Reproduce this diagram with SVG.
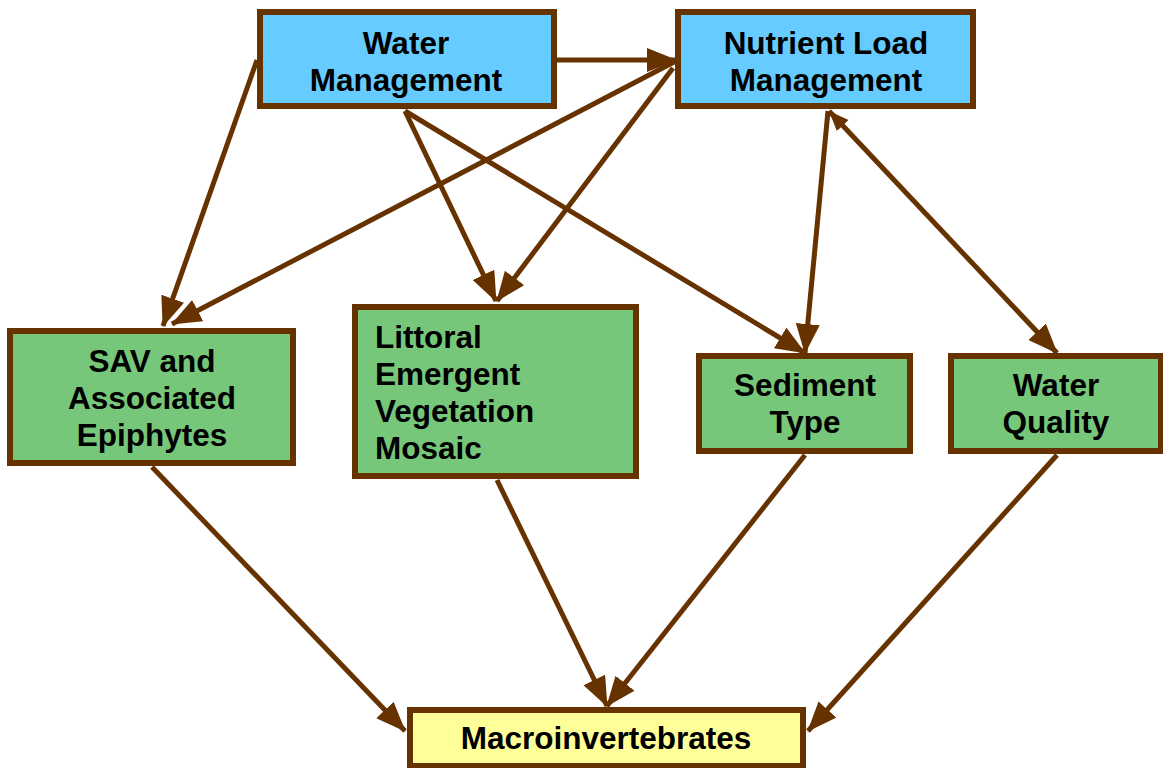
<svg xmlns="http://www.w3.org/2000/svg" width="1163" height="768" viewBox="0 0 1163 768">
<style>
.box{stroke:#663300;stroke-width:6}
.blue{fill:#66CCFF}
.green{fill:#77C77A}
.yellow{fill:#FFFF99}
text{font-family:"Liberation Sans",Arial,sans-serif;font-weight:bold;font-size:31.5px;fill:#000}
.c{text-anchor:middle}
.conn line{stroke:#663300;stroke-width:5;fill:none;marker-end:url(#ah)}
</style>
<defs>
<marker id="ah" markerUnits="userSpaceOnUse" markerWidth="32" markerHeight="26" refX="29" refY="12" orient="auto">
<path d="M0,0 L30,12 L0,24 z" fill="#663300"/>
</marker>
<marker id="ahs" markerUnits="userSpaceOnUse" markerWidth="22" markerHeight="18" refX="20" refY="8" orient="auto-start-reverse">
<path d="M0,0 L20,8 L0,16 z" fill="#663300"/>
</marker>
</defs>
<rect width="1163" height="768" fill="#fff"/>
<g class="conn" id="connectors">
<line x1="557" y1="60" x2="676" y2="60"/>
<line x1="257" y1="60" x2="163" y2="326"/>
<line x1="676" y1="61" x2="172" y2="324"/>
<line x1="673" y1="68" x2="497" y2="301"/>
<line x1="405" y1="111" x2="496" y2="301"/>
<line x1="405" y1="111" x2="805" y2="353"/>
<line x1="828" y1="111" x2="805" y2="353"/>
<line x1="829" y1="111" x2="1057" y2="353" marker-start="url(#ahs)"/>
<line x1="152" y1="467" x2="405" y2="731"/>
<line x1="497" y1="480" x2="607" y2="706"/>
<line x1="805" y1="455" x2="607" y2="706"/>
<line x1="1057" y1="455" x2="808" y2="731"/>
</g>
<g id="water-management">
<rect class="box blue" x="260" y="12" width="294" height="94"/>
<text class="c" x="406" y="54">Water</text>
<text class="c" x="406" y="91">Management</text>
</g>
<g id="nutrient-load-management">
<rect class="box blue" x="678" y="12" width="295" height="94"/>
<text class="c" x="826" y="54">Nutrient Load</text>
<text class="c" x="826" y="91">Management</text>
</g>
<g id="sav">
<rect class="box green" x="10" y="331" width="283" height="132"/>
<text class="c" x="152" y="372">SAV and</text>
<text class="c" x="152" y="409">Associated</text>
<text class="c" x="152" y="446">Epiphytes</text>
</g>
<g id="littoral">
<rect class="box green" x="355" y="307" width="281" height="169"/>
<text x="375" y="348">Littoral</text>
<text x="375" y="385">Emergent</text>
<text x="375" y="422">Vegetation</text>
<text x="375" y="459">Mosaic</text>
</g>
<g id="sediment-type">
<rect class="box green" x="699" y="356" width="211" height="95"/>
<text class="c" x="805" y="396">Sediment</text>
<text class="c" x="805" y="433">Type</text>
</g>
<g id="water-quality">
<rect class="box green" x="951" y="356" width="210" height="95"/>
<text class="c" x="1056" y="396">Water</text>
<text class="c" x="1056" y="433">Quality</text>
</g>
<g id="macroinvertebrates">
<rect class="box yellow" x="410" y="710" width="393" height="56"/>
<text class="c" x="606" y="749">Macroinvertebrates</text>
</g>
</svg>
